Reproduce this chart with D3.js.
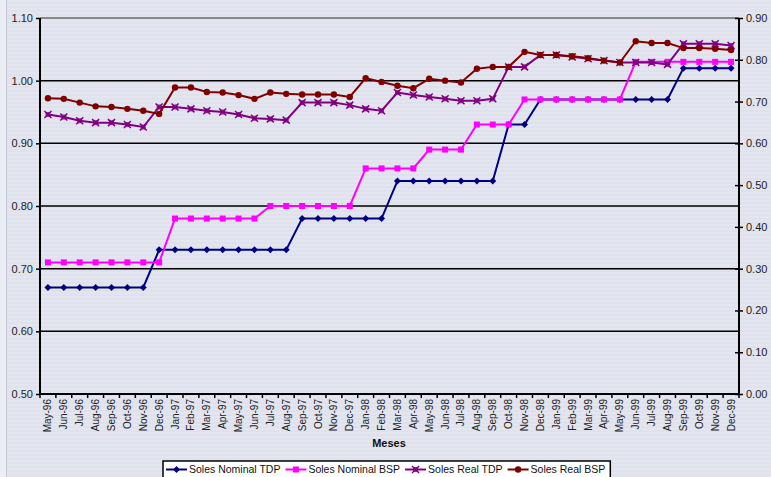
<!DOCTYPE html>
<html>
<head>
<meta charset="utf-8">
<script src="https://cdn.jsdelivr.net/npm/d3@7"></script>
<style>
  body { margin: 0; background: #e3e5ef; }
  svg { display: block; font-family: Arial, "Liberation Sans", sans-serif; }
</style>
</head>
<body>
<div id="chart"></div>
<script>
const months = ["May-96","Jun-96","Jul-96","Aug-96","Sep-96","Oct-96","Nov-96","Dec-96",
  "Jan-97","Feb-97","Mar-97","Apr-97","May-97","Jun-97","Jul-97","Aug-97","Sep-97","Oct-97","Nov-97","Dec-97",
  "Jan-98","Feb-98","Mar-98","Apr-98","May-98","Jun-98","Jul-98","Aug-98","Sep-98","Oct-98","Nov-98","Dec-98",
  "Jan-99","Feb-99","Mar-99","Apr-99","May-99","Jun-99","Jul-99","Aug-99","Sep-99","Oct-99","Nov-99","Dec-99"];

const nominalTDP = [0.67,0.67,0.67,0.67,0.67,0.67,0.67,0.73,
  0.73,0.73,0.73,0.73,0.73,0.73,0.73,0.73,0.78,0.78,0.78,0.78,
  0.78,0.78,0.84,0.84,0.84,0.84,0.84,0.84,0.84,0.93,0.93,0.97,
  0.97,0.97,0.97,0.97,0.97,0.97,0.97,0.97,1.02,1.02,1.02,1.02];

const nominalBSP = [0.71,0.71,0.71,0.71,0.71,0.71,0.71,0.71,
  0.78,0.78,0.78,0.78,0.78,0.78,0.80,0.80,0.80,0.80,0.80,0.80,
  0.86,0.86,0.86,0.86,0.89,0.89,0.89,0.93,0.93,0.93,0.97,0.97,
  0.97,0.97,0.97,0.97,0.97,1.03,1.03,1.03,1.03,1.03,1.03,1.03];

const realTDP = [0.946,0.942,0.936,0.933,0.933,0.930,0.926,0.958,
  0.958,0.955,0.952,0.950,0.946,0.940,0.939,0.937,0.965,0.965,0.965,0.961,
  0.955,0.952,0.981,0.977,0.974,0.971,0.968,0.968,0.971,1.022,1.022,1.041,
  1.041,1.038,1.035,1.032,1.029,1.029,1.029,1.026,1.059,1.059,1.059,1.056];

const realBSP = [0.972,0.971,0.965,0.959,0.958,0.955,0.952,0.947,
  0.989,0.989,0.982,0.981,0.977,0.971,0.981,0.979,0.978,0.978,0.978,0.974,
  1.004,0.998,0.992,0.988,1.003,1.000,0.997,1.019,1.022,1.022,1.046,1.041,
  1.041,1.039,1.036,1.032,1.029,1.063,1.060,1.060,1.052,1.052,1.051,1.049];

const leftTicks = [0.5,0.6,0.7,0.8,0.9,1.0,1.1];
const rightTicks = [0,0.1,0.2,0.3,0.4,0.5,0.6,0.7,0.8,0.9];

const series = [
  { name: "Soles Nominal TDP", values: nominalTDP, color: "#000080", marker: "diamond" },
  { name: "Soles Nominal BSP", values: nominalBSP, color: "#ff00ff", marker: "square" },
  { name: "Soles Real TDP", values: realTDP, color: "#800080", marker: "star" },
  { name: "Soles Real BSP", values: realBSP, color: "#800000", marker: "circle" }
];

const W = 771, H = 477;
const pLeft = 40, pRight = 739, pTop = 18, pBottom = 394;

const svg = d3.select("#chart").append("svg").attr("width", W).attr("height", H);

// background with faint stripes
const defs = svg.append("defs");
const pat = defs.append("pattern").attr("id", "stripes")
  .attr("width", 8).attr("height", 4).attr("patternUnits", "userSpaceOnUse");
pat.append("rect").attr("width", 8).attr("height", 4).attr("fill", "#e3e5ef");
pat.append("rect").attr("y", 2).attr("width", 8).attr("height", 2).attr("fill", "#dfe1ec");
svg.append("rect").attr("width", W).attr("height", H).attr("fill", "url(#stripes)");
svg.append("rect").attr("x", 0).attr("width", 6).attr("height", H).attr("fill", "#eceef5");
svg.append("line").attr("x1", 6.5).attr("x2", 6.5).attr("y1", 0).attr("y2", H)
  .attr("stroke", "#c5c8d6").attr("stroke-width", 1);

const x = d3.scaleBand().domain(months).range([pLeft, pRight]).padding(0);
const y = d3.scaleLinear().domain([0.5, 1.1]).range([pBottom, pTop]);
const y2 = d3.scaleLinear().domain([0, 0.9]).range([pBottom, pTop]);
const cx = m => x(m) + x.bandwidth() / 2;

// top border of plot area
svg.append("line").attr("x1", pLeft).attr("x2", pRight).attr("y1", pTop).attr("y2", pTop)
  .attr("stroke", "#888").attr("stroke-width", 2);

// gridlines
svg.append("g").selectAll("line").data(leftTicks.filter(t => t > 0.5 && t < 1.1)).join("line")
  .attr("x1", pLeft).attr("x2", pRight)
  .attr("y1", d => y(d)).attr("y2", d => y(d))
  .attr("stroke", "#000").attr("stroke-width", 1.5);

// left axis
const gl = svg.append("g").attr("transform", `translate(${pLeft},0)`)
  .call(d3.axisLeft(y).tickValues(leftTicks).tickFormat(d3.format(".2f")).tickSize(4).tickPadding(3));
gl.select(".domain").attr("stroke-width", 2).attr("d", `M0,${pTop}V${pBottom}`);
gl.selectAll(".tick line").attr("stroke-width", 1.5);
gl.selectAll("text").attr("font-size", 11).attr("fill", "#222").attr("font-family", "Arial, 'Liberation Sans', sans-serif");

// right axis
const gr = svg.append("g").attr("transform", `translate(${pRight},0)`)
  .call(d3.axisRight(y2).tickValues(rightTicks).tickFormat(d3.format(".2f")).tickSize(4).tickPadding(3));
gr.select(".domain").attr("stroke-width", 2).attr("d", `M0,${pTop}V${pBottom}`);
gr.selectAll(".tick line").attr("x1", -4).attr("stroke-width", 1.5);
gr.selectAll("text").attr("font-size", 11).attr("fill", "#222").attr("font-family", "Arial, 'Liberation Sans', sans-serif");

// bottom axis
const gb = svg.append("g").attr("transform", `translate(0,${pBottom})`)
  .call(d3.axisBottom(x).tickSize(0).tickPadding(0));
gb.select(".domain").attr("stroke-width", 2).attr("d", `M${pLeft},0H${pRight}`);
gb.selectAll("text")
  .attr("font-size", 10).attr("fill", "#222").attr("font-family", "Arial, 'Liberation Sans', sans-serif")
  .attr("text-anchor", "end")
  .attr("transform", "rotate(-90)")
  .attr("x", -5).attr("y", 0).attr("dy", "0.35em");
// ticks at category boundaries
gb.append("g").selectAll("line").data(months.concat([null])).join("line")
  .attr("x1", (d, i) => pLeft + i * x.bandwidth())
  .attr("x2", (d, i) => pLeft + i * x.bandwidth())
  .attr("y1", 0).attr("y2", 4)
  .attr("stroke", "#000").attr("stroke-width", 1.5);

svg.append("text").attr("x", 389).attr("y", 447).attr("text-anchor", "middle")
  .attr("font-size", 11).attr("font-weight", "bold").attr("fill", "#111").text("Meses");

// markers
function drawMarker(g, type, color, px, py) {
  if (type === "diamond") {
    g.append("path").attr("d", `M${px},${py - 3.5}L${px + 3.5},${py}L${px},${py + 3.5}L${px - 3.5},${py}Z`)
      .attr("fill", color);
  } else if (type === "square") {
    g.append("rect").attr("x", px - 3).attr("y", py - 3).attr("width", 6).attr("height", 6).attr("fill", color);
  } else if (type === "circle") {
    g.append("circle").attr("cx", px).attr("cy", py).attr("r", 3.2).attr("fill", color);
  } else {
    g.append("rect").attr("x", px - 2.5).attr("y", py - 2.5).attr("width", 5).attr("height", 5)
      .attr("fill", color).attr("opacity", 0.8);
    g.append("path").attr("d", `M${px - 3.5},${py - 3.5}L${px + 3.5},${py + 3.5}M${px + 3.5},${py - 3.5}L${px - 3.5},${py + 3.5}`)
      .attr("stroke", color).attr("stroke-width", 1.5);
  }
}

const line = d3.line().x((d, i) => cx(months[i])).y(d => y(d));

series.forEach(s => {
  const g = svg.append("g");
  g.append("path").datum(s.values).attr("d", line)
    .attr("fill", "none").attr("stroke", s.color).attr("stroke-width", 2);
  s.values.forEach((v, i) => drawMarker(g, s.marker, s.color, cx(months[i]), y(v)));
});

// legend
const lg = svg.append("g");
const box = lg.append("rect").attr("y", 461).attr("height", 24)
  .attr("fill", "#fff").attr("stroke", "#000").attr("stroke-width", 1.5);
let lx = 166;
series.forEach(s => {
  lg.append("line").attr("x1", lx).attr("x2", lx + 21).attr("y1", 469.5).attr("y2", 469.5)
    .attr("stroke", s.color).attr("stroke-width", 2);
  drawMarker(lg, s.marker, s.color, lx + 10.5, 469.5);
  const t = lg.append("text").attr("x", lx + 23).attr("y", 473)
    .attr("font-size", 10.5).attr("fill", "#111").text(s.name);
  lx += 23 + t.node().getComputedTextLength() + 5;
});
box.attr("x", 163).attr("width", lx - 163);
</script>
</body>
</html>
